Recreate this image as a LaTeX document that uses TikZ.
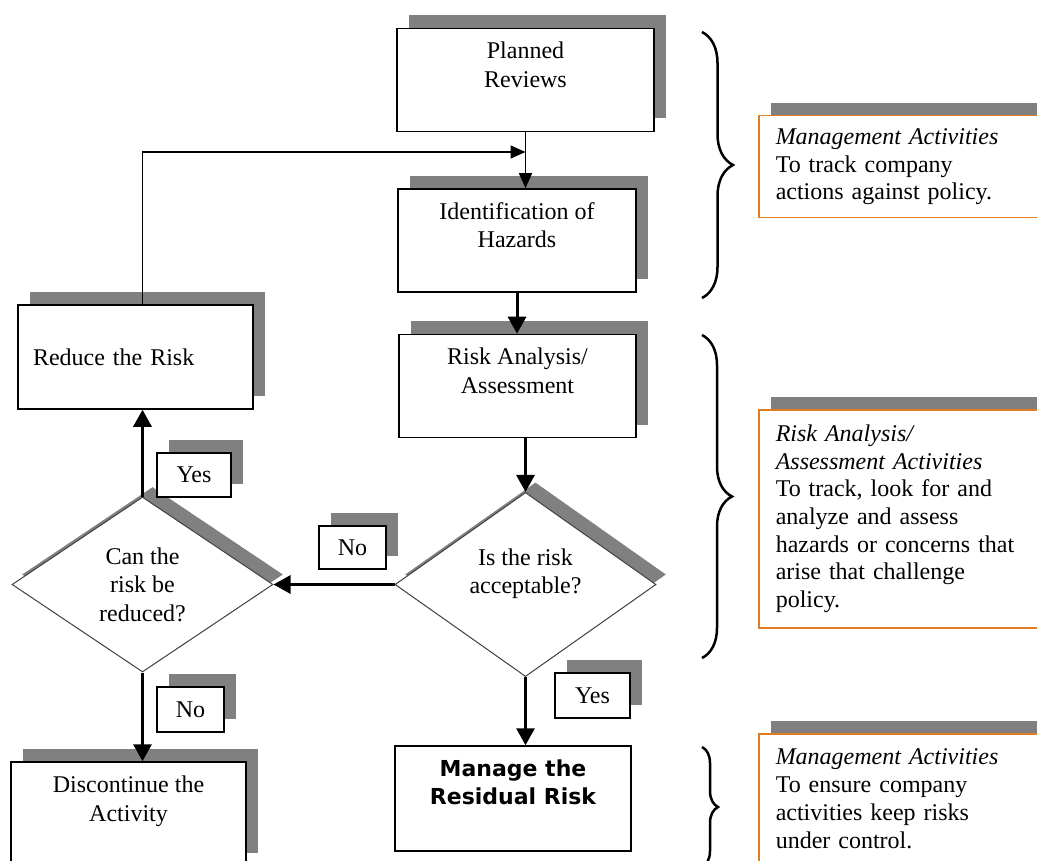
\documentclass[tikz,border=0pt]{standalone}
\usepackage{fontspec}
\setmainfont{Liberation Serif}
\newfontfamily\verd{DejaVu Sans}
\usetikzlibrary{shapes.geometric,arrows.meta,shadows,decorations.pathreplacing}
\definecolor{shadowgray}{RGB}{128,128,128}
\definecolor{noteorange}{RGB}{226,122,32}

\begin{document}
\begin{tikzpicture}[x=1pt,y=-1pt,
	font=\fontsize{24}{28.5}\selectfont,
	shadebox/.style={drop shadow={shadow xshift=12pt,shadow yshift=13pt,fill=shadowgray,opacity=1}},
	proc/.style={rectangle,draw,line width=1.5pt,fill=white,align=center,inner sep=0pt,minimum width=237pt,minimum height=103pt,shadebox},
	decide/.style={diamond,draw=black!75,line width=1pt,fill=white,align=center,inner sep=0pt,minimum width=261pt,minimum height=175pt,drop shadow={shadow xshift=10pt,shadow yshift=10pt,fill=shadowgray,opacity=1}},
	tag/.style={rectangle,draw,line width=1.3pt,fill=white,inner sep=0pt,shadebox},
	note/.style={rectangle,draw=noteorange,line width=1.5pt,fill=white,align=left,text width=280pt,inner xsep=17pt,inner ysep=0pt,anchor=north west,font=\fontsize{24}{27.7}\selectfont,shadebox},
	arrowbig/.style={line width=3pt,-{Triangle[length=17pt,width=18pt]}},
	arrowsmall/.style={line width=1.3pt,-{Triangle[length=15pt,width=13pt]}},
	curly/.style={line width=2.5pt,decorate}]
	\useasboundingbox (0,0) rectangle (1037,861);
	\node[proc, minimum width=257pt] (plan) at (525.5,80) {Planned\\Reviews\\[-6pt]\strut};
	\node[proc, minimum width=238pt] (ident) at (517,240.5) {Identification of\\Hazards\\[-6pt]\strut};
	\node[proc] (risk) at (517.5,386) {Risk Analysis/\\Assessment\\[-6pt]\strut};
	\node[proc, align=left, text width=205pt, inner xsep=15pt, minimum width=235pt, minimum height=104pt] (reduce) at (135.5,357) {Reduce the Risk};
	\node[decide] (accept) at (525.5,584.5) {Is the risk\\acceptable?\\[-10pt]\strut};
	\node[decide] (canred) at (142.5,584.5) {Can the\\risk be\\reduced?};
	\node[proc, minimum width=235pt, minimum height=104pt] (stop) at (128.5,814) {Discontinue the\\Activity\\[-6pt]\strut};
	\node[rectangle, draw, line width=1.5pt, fill=white, align=center, inner sep=0pt, minimum width=236pt, minimum height=105pt, font=\verd\bfseries\fontsize{22}{28}\selectfont] (manage) at (513,798.5) {Manage the\\Residual Risk\\[-4pt]\strut};
	\node[tag, minimum width=74pt, minimum height=44pt] (yes1) at (194,475) {Yes};
	\node[tag, minimum width=67pt, minimum height=43pt] (no1) at (352.5,547.5) {No};
	\node[tag, minimum width=75pt, minimum height=45pt] (yes2) at (592.5,695.5) {Yes};
	\node[tag, minimum width=67pt, minimum height=45pt] (no2) at (190.5,709.5) {No};
	\node[note, minimum height=102pt] (note1) at (758,115) {\textit{Management Activities}\\To track company\\actions against policy.};
	\node[note, minimum height=218pt] (note2) at (758,409) {\textit{Risk Analysis/}\\\textit{Assessment Activities}\\To track, look for and\\analyze and assess\\hazards or concerns that\\arise that challenge\\policy.};
	\node[note, minimum height=130pt] (note3) at (758,733) {\textit{Management Activities}\\To ensure company\\activities keep risks\\under control.};
	\coordinate (back) at (525.5,152);
	\draw[arrowsmall] (plan.south) -- (plan.south |- ident.north);
	\draw[arrowsmall] (canred.north |- reduce.north) |- (back);
	\draw[arrowbig] (ident.south) -- (ident.south |- risk.north);
	\draw[arrowbig] (accept.north |- risk.south) -- (accept.north);
	\draw[arrowbig] (accept.west) -- (canred.east);
	\draw[arrowbig] (canred.north) -- (canred.north |- reduce.south);
	\draw[arrowbig] (canred.south) -- (canred.south |- stop.north);
	\draw[arrowbig] (accept.south) -- (accept.south |- manage.north);
	\draw[curly, decoration={brace, amplitude=31pt}] (702,32) -- (702,298);
	\draw[curly, decoration={brace, amplitude=30pt}] (702,335) -- (702,658);
	\draw[curly, decoration={brace, amplitude=16pt}] (702,747) -- (702,867);
\end{tikzpicture}
\end{document}
